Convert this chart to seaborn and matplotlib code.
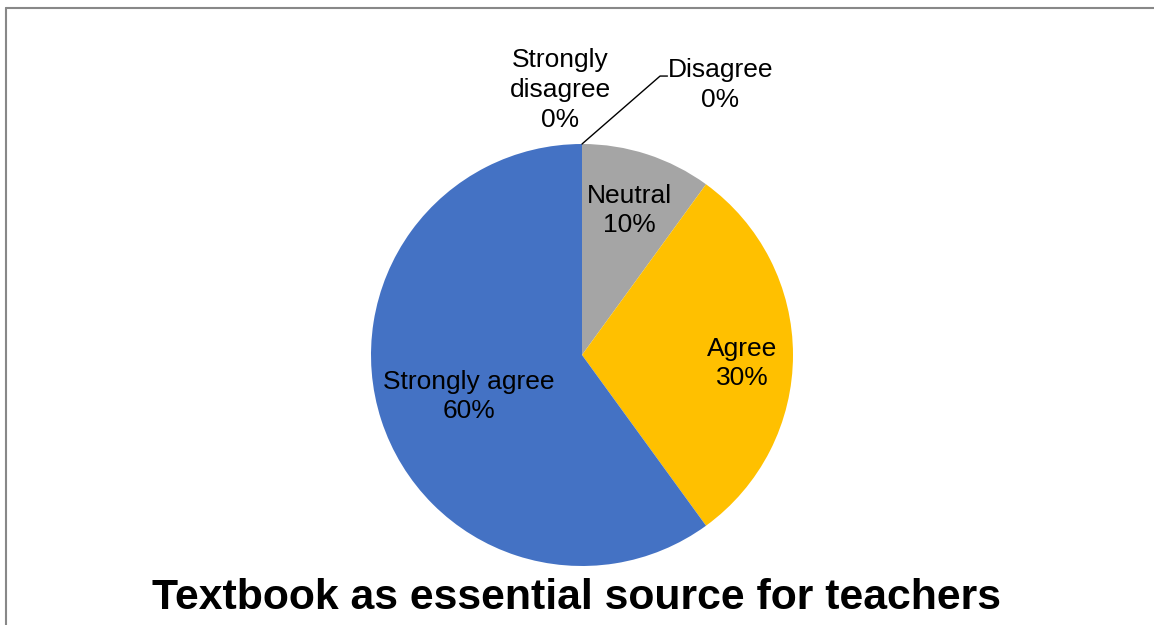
import numpy as np
import matplotlib
matplotlib.use("Agg")
import matplotlib.pyplot as plt
from matplotlib.lines import Line2D
import seaborn as sns

categories = ["Strongly disagree", "Disagree", "Neutral", "Agree", "Strongly agree"]
values = [0, 0, 10, 30, 60]
pct_labels = ["0%", "0%", "10%", "30%", "60%"]
colors = ["#5B9BD5", "#ED7D31", "#A5A5A5", "#FFC000", "#4472C4"]
title = "Textbook as essential source for teachers"

sns.set_theme(style="white")
plt.rcParams["font.family"] = ["Liberation Sans", "DejaVu Sans"]

fig = plt.figure(figsize=(11.54, 6.25), dpi=100)
ax = fig.add_axes([371/1154, 59/625, 422/1154, 422/625])

wedges, _ = ax.pie(values, colors=sns.color_palette(colors), startangle=90,
                   counterclock=False, radius=1.0,
                   wedgeprops=dict(linewidth=0))
ax.set_xlim(-1, 1)
ax.set_ylim(-1, 1)
ax.set_aspect("equal")
ax.axis("off")

fs = 19
ls = 1.3
# label radial distances / small vertical nudges for inside labels
dist = {2: 0.73, 3: 0.76, 4: 0.565}
nudge = {2: -0.01, 3: -0.04, 4: -0.022}
for i, w in enumerate(wedges):
    if values[i] == 0:
        continue
    ang = np.deg2rad((w.theta1 + w.theta2) / 2)
    d = dist[i]
    ax.text(d * np.cos(ang), d * np.sin(ang) + nudge[i], f"{categories[i]}\n{pct_labels[i]}",
            ha="center", va="center", fontsize=fs, color="black", linespacing=ls)

# zero-value labels outside the pie
ax.text(-0.104, 1.255, f"Strongly\ndisagree\n{pct_labels[0]}", ha="center", va="center",
        fontsize=fs, color="black", linespacing=ls, clip_on=False)
ax.text(0.656, 1.28, f"{categories[1]}\n{pct_labels[1]}", ha="center", va="center",
        fontsize=fs, color="black", linespacing=ls, clip_on=False)
ax.plot([0.0, 0.37, 0.405], [1.0, 1.322, 1.322], color="black", lw=1.0, clip_on=False)

fig.text(576/1154, 1 - 598/625, title, ha="center", va="center",
         fontsize=30.8, fontweight="bold", color="black")

# outer border (top and left)
fig.add_artist(Line2D([5.5/1154, 1], [1 - 8/625, 1 - 8/625], color="#888888", lw=1.5))
fig.add_artist(Line2D([5.5/1154, 5.5/1154], [0, 1 - 8/625], color="#888888", lw=1.5))

fig.savefig("out.png", dpi=100, facecolor="white")
